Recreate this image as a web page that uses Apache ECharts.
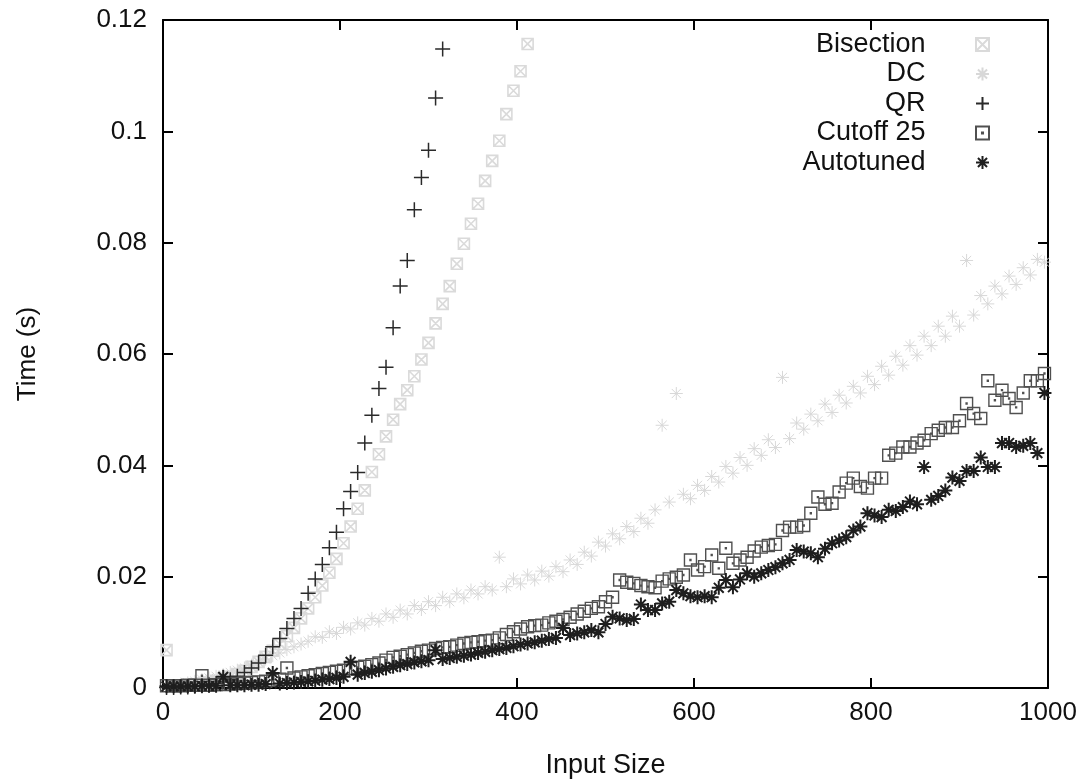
<!DOCTYPE html>
<html>
<head>
<meta charset="utf-8">
<script src="https://cdn.jsdelivr.net/npm/echarts@6/dist/echarts.min.js"></script>
<style>
  html, body { margin: 0; padding: 0; background: #fff; }
  #chart { width: 1090px; height: 784px; }
</style>
</head>
<body>
<div id="chart"></div>
<script>
// input sizes (x)
const sizes = [4, 12, 20, 28, 36, 44, 52, 60, 68, 76, 84, 92, 100, 108, 116, 124, 132, 140, 148, 156,
  164, 172, 180, 188, 196, 204, 212, 220, 228, 236, 244, 252, 260, 268, 276, 284, 292, 300, 308, 316,
  324, 332, 340, 348, 356, 364, 372, 380, 388, 396, 404, 412, 420, 428, 436, 444, 452, 460, 468, 476,
  484, 492, 500, 508, 516, 524, 532, 540, 548, 556, 564, 572, 580, 588, 596, 604, 612, 620, 628, 636,
  644, 652, 660, 668, 676, 684, 692, 700, 708, 716, 724, 732, 740, 748, 756, 764, 772, 780, 788, 796,
  804, 812, 820, 828, 836, 844, 852, 860, 868, 876, 884, 892, 900, 908, 916, 924, 932, 940, 948, 956,
  964, 972, 980, 988, 996]

const seriesNames = ['Bisection', 'DC', 'QR', 'Cutoff 25', 'Autotuned']

// times (s); Bisection and QR stop where they leave the plot
const bisection = [0.0068, 0.0003, 0.0004, 0.0005, 0.0006, 0.0008, 0.0010, 0.0013, 0.0016, 0.0020,
  0.0025, 0.0031, 0.0038, 0.0047, 0.0056, 0.0067, 0.0079, 0.0093, 0.0108, 0.0125,
  0.0143, 0.0163, 0.0184, 0.0207, 0.0232, 0.0260, 0.0290, 0.0322, 0.0355, 0.0388,
  0.0420, 0.0452, 0.0482, 0.0510, 0.0535, 0.0560, 0.0590, 0.0620, 0.0655, 0.0690,
  0.0722, 0.0762, 0.0798, 0.0834, 0.0870, 0.0911, 0.0947, 0.0983, 0.1031, 0.1073,
  0.1108, 0.1157]

const dc = [0.0002, 0.0004, 0.0007, 0.0009, 0.0012, 0.0015, 0.0018, 0.0021, 0.0024, 0.0028,
  0.0032, 0.0036, 0.0041, 0.0046, 0.0052, 0.0058, 0.0063, 0.0069, 0.0074, 0.0079,
  0.0084, 0.0092, 0.0091, 0.0101, 0.0098, 0.0109, 0.0106, 0.0117, 0.0113, 0.0125,
  0.0120, 0.0133, 0.0127, 0.0140, 0.0133, 0.0148, 0.0141, 0.0155, 0.0148, 0.0163,
  0.0155, 0.0169, 0.0162, 0.0176, 0.0169, 0.0182, 0.0176, 0.0235, 0.0182, 0.0196,
  0.0187, 0.0203, 0.0194, 0.0210, 0.0201, 0.0218, 0.0209, 0.0230, 0.0222, 0.0244,
  0.0237, 0.0262, 0.0255, 0.0277, 0.0268, 0.0290, 0.0281, 0.0305, 0.0296, 0.0320,
  0.0472, 0.0334, 0.0529, 0.0348, 0.0340, 0.0364, 0.0355, 0.0380, 0.0370, 0.0398,
  0.0386, 0.0414, 0.0400, 0.0430, 0.0418, 0.0446, 0.0432, 0.0558, 0.0448, 0.0476,
  0.0465, 0.0492, 0.0480, 0.0510, 0.0495, 0.0526, 0.0512, 0.0542, 0.0530, 0.0560,
  0.0545, 0.0578, 0.0562, 0.0596, 0.0580, 0.0615, 0.0598, 0.0632, 0.0615, 0.0650,
  0.0632, 0.0668, 0.0650, 0.0768, 0.0670, 0.0705, 0.0690, 0.0722, 0.0708, 0.0740,
  0.0725, 0.0755, 0.0742, 0.0770, 0.0765]

const qr = [0.0001, 0.0001, 0.0002, 0.0002, 0.0003, 0.0004, 0.0006, 0.0008, 0.0011, 0.0015,
  0.0021, 0.0028, 0.0036, 0.0045, 0.0059, 0.0074, 0.0089, 0.0107, 0.0125, 0.0143,
  0.0170, 0.0196, 0.0222, 0.0252, 0.0280, 0.0322, 0.0353, 0.0387, 0.0440, 0.0490,
  0.0538, 0.0576, 0.0647, 0.0722, 0.0768, 0.0859, 0.0917, 0.0966, 0.1060, 0.1148]

const cutoff25 = [0.0004, 0.0004, 0.0004, 0.0005, 0.0005, 0.0022, 0.0005, 0.0006, 0.0006, 0.0007,
  0.0008, 0.0009, 0.0010, 0.0011, 0.0012, 0.0014, 0.0016, 0.0036, 0.0018, 0.0020,
  0.0022, 0.0024, 0.0026, 0.0028, 0.0030, 0.0032, 0.0035, 0.0037, 0.0039, 0.0042,
  0.0045, 0.0050, 0.0055, 0.0057, 0.0060, 0.0063, 0.0066, 0.0068, 0.0071, 0.0073,
  0.0074, 0.0077, 0.0080, 0.0082, 0.0083, 0.0085, 0.0086, 0.0090, 0.0096, 0.0101,
  0.0106, 0.0110, 0.0112, 0.0113, 0.0117, 0.0120, 0.0123, 0.0127, 0.0133, 0.0138,
  0.0143, 0.0146, 0.0155, 0.0163, 0.0194, 0.0190, 0.0188, 0.0184, 0.0182, 0.0180,
  0.0192, 0.0196, 0.0199, 0.0203, 0.0230, 0.0212, 0.0218, 0.0239, 0.0215, 0.0251,
  0.0224, 0.0230, 0.0235, 0.0246, 0.0253, 0.0256, 0.0258, 0.0283, 0.0289, 0.0289,
  0.0292, 0.0314, 0.0343, 0.0330, 0.0332, 0.0352, 0.0368, 0.0377, 0.0362, 0.0359,
  0.0377, 0.0377, 0.0418, 0.0422, 0.0433, 0.0433, 0.0440, 0.0445, 0.0457, 0.0463,
  0.0468, 0.0468, 0.0480, 0.0511, 0.0493, 0.0484, 0.0552, 0.0517, 0.0535, 0.0520,
  0.0504, 0.0530, 0.0552, 0.0552, 0.0565]

const autotuned = [0.0003, 0.0003, 0.0003, 0.0003, 0.0003, 0.0004, 0.0004, 0.0004, 0.0020, 0.0005,
  0.0005, 0.0005, 0.0006, 0.0006, 0.0007, 0.0027, 0.0008, 0.0009, 0.0010, 0.0011,
  0.0012, 0.0013, 0.0015, 0.0016, 0.0018, 0.0020, 0.0047, 0.0024, 0.0027, 0.0029,
  0.0032, 0.0035, 0.0038, 0.0041, 0.0043, 0.0046, 0.0048, 0.0050, 0.0068, 0.0052,
  0.0054, 0.0056, 0.0058, 0.0060, 0.0063, 0.0065, 0.0068, 0.0070, 0.0072, 0.0075,
  0.0078, 0.0080, 0.0082, 0.0085, 0.0088, 0.0090, 0.0108, 0.0095, 0.0098, 0.0100,
  0.0104, 0.0100, 0.0115, 0.0128, 0.0125, 0.0122, 0.0124, 0.0150, 0.0140, 0.0140,
  0.0152, 0.0155, 0.0176, 0.0170, 0.0165, 0.0163, 0.0165, 0.0163, 0.0180, 0.0194,
  0.0181, 0.0195, 0.0206, 0.0200, 0.0206, 0.0212, 0.0217, 0.0224, 0.0230, 0.0248,
  0.0245, 0.0242, 0.0235, 0.0250, 0.0260, 0.0265, 0.0271, 0.0283, 0.0290, 0.0314,
  0.0310, 0.0307, 0.0320, 0.0318, 0.0325, 0.0335, 0.0330, 0.0397, 0.0338, 0.0345,
  0.0355, 0.0378, 0.0372, 0.0390, 0.0390, 0.0414, 0.0397, 0.0397, 0.0440, 0.0440,
  0.0433, 0.0435, 0.0440, 0.0422, 0.0530]

const yTicks = [0, 0.02, 0.04, 0.06, 0.08, 0.1, 0.12]
const xTicks = [0, 200, 400, 600, 800, 1000]

// gnuplot-like point shapes, stroked only
const shapes = {
  boxX: 'path://M1,1L9,1L9,9L1,9Z M1,1L9,9 M1,9L9,1',
  star: 'path://M0,5L10,5 M5,0L5,10 M1.5,1.5L8.5,8.5 M1.5,8.5L8.5,1.5',
  plus: 'path://M0,5L10,5 M5,0L5,10',
  boxDot: 'path://M0,0L10,0L10,10L0,10Z M4.6,4.6L5.4,4.6L5.4,5.4L4.6,5.4Z'
}

const font = 'Liberation Sans, Arial, sans-serif'

function pairs (ys) {
  return ys.map((y, i) => [sizes[i], y])
}

function pickTick (ticks, v) {
  const t = ticks.find(t => Math.abs(t - v) < 1e-9)
  return String(t === undefined ? v : t)
}

function makeSeries (name, ys, symbol, size, stroke, width) {
  return {
    name: name,
    type: 'scatter',
    data: pairs(ys),
    symbol: symbol,
    symbolSize: size,
    animation: false,
    silent: true,
    itemStyle: {
      color: 'rgba(0,0,0,0)',
      borderColor: stroke,
      borderWidth: width,
      opacity: 1
    }
  }
}

const chart = echarts.init(document.getElementById('chart'), null, { renderer: 'canvas' })

const axisCommon = {
  type: 'value',
  axisLine: { show: true, onZero: false, lineStyle: { color: '#000', width: 2 } },
  axisTick: { show: true, inside: true, length: 10, lineStyle: { color: '#000', width: 2 } },
  splitLine: { show: false }
}

const option = {
  backgroundColor: '#fff',
  textStyle: { fontFamily: font },
  grid: { left: 163, right: 42, top: 20, bottom: 96 },
  legend: {
    orient: 'vertical',
    right: 95,
    top: 26,
    align: 'right',
    itemWidth: 104,
    itemHeight: 13,
    itemGap: 2.5,
    selectedMode: false,
    data: seriesNames,
    textStyle: { fontSize: 27, color: '#111', fontFamily: font, lineHeight: 22 }
  },
  xAxis: [
    Object.assign({}, axisCommon, {
      min: 0,
      max: 1000,
      interval: 200,
      name: 'Input Size',
      nameLocation: 'middle',
      nameGap: 64,
      nameTextStyle: { fontSize: 27, color: '#111' },
      axisLabel: { fontSize: 26, color: '#111', margin: 12, formatter: v => pickTick(xTicks, v) }
    }),
    Object.assign({}, axisCommon, {
      position: 'top',
      min: 0,
      max: 1000,
      interval: 200,
      axisLabel: { show: false }
    })
  ],
  yAxis: [
    Object.assign({}, axisCommon, {
      min: 0,
      max: 0.12,
      interval: 0.02,
      name: 'Time (s)',
      nameLocation: 'middle',
      nameGap: 122,
      nameTextStyle: { fontSize: 26, color: '#111' },
      axisLabel: {
        fontSize: 26,
        color: '#111',
        margin: 16,
        formatter: v => pickTick(yTicks, v)
      }
    }),
    Object.assign({}, axisCommon, {
      position: 'right',
      min: 0,
      max: 0.12,
      interval: 0.02,
      axisLabel: { show: false }
    })
  ],
  series: [
    makeSeries(seriesNames[0], bisection, shapes.boxX, 11, '#dadada', 1.6),
    makeSeries(seriesNames[1], dc, shapes.star, 13, '#d8d8d8', 1),
    makeSeries(seriesNames[2], qr, shapes.plus, 15, '#2a2a2a', 1.5),
    makeSeries(seriesNames[3], cutoff25, shapes.boxDot, 12, '#505050', 1.4),
    makeSeries(seriesNames[4], autotuned, shapes.star, 14, '#1e1e1e', 2)
  ]
}

chart.setOption(option)
</script>
</body>
</html>
